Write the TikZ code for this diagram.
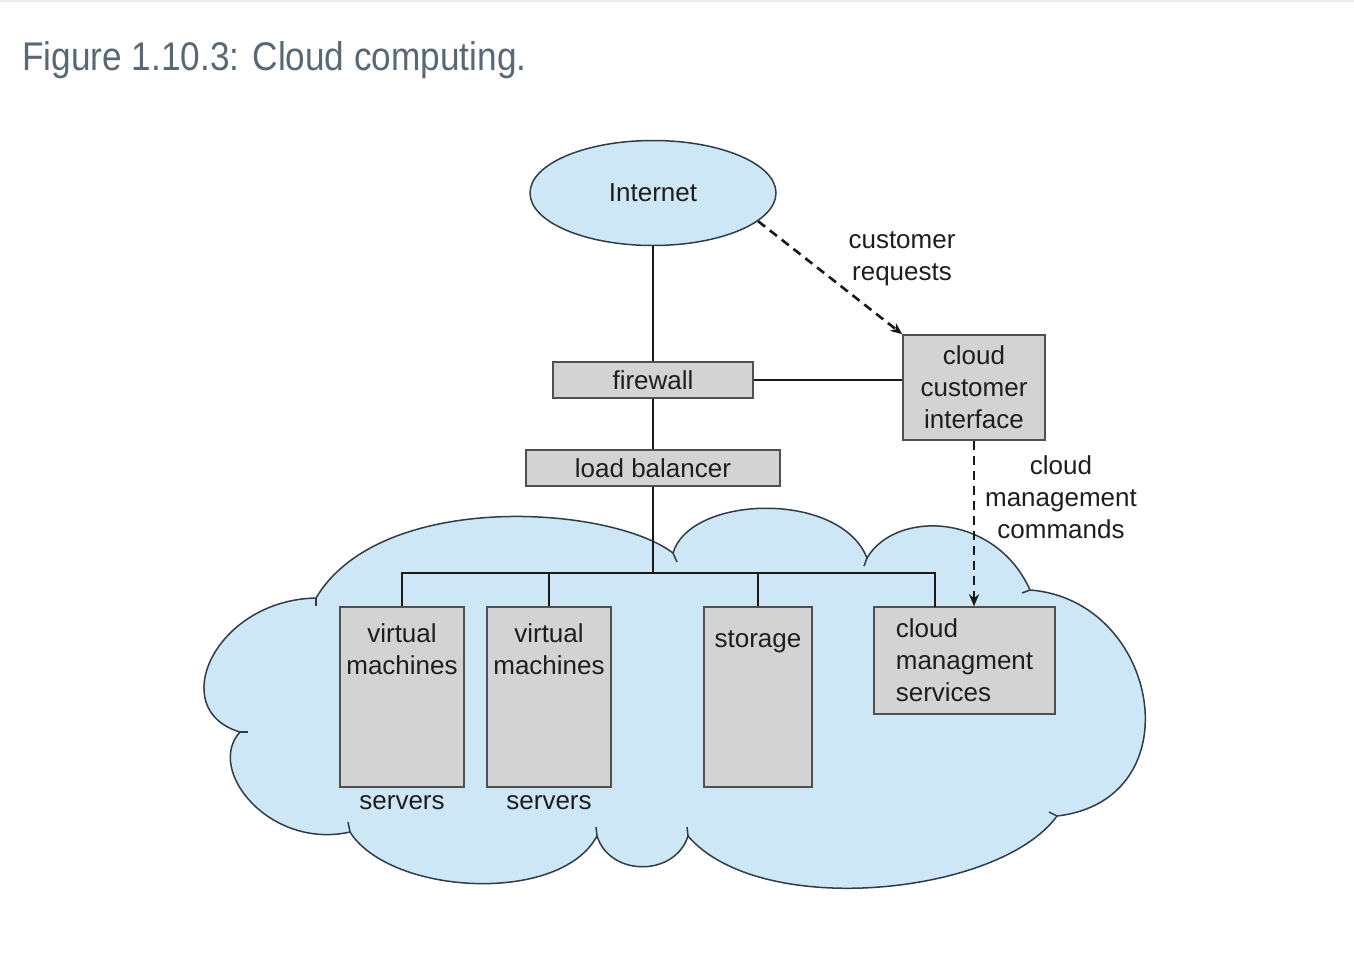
\documentclass[tikz,border=0pt]{standalone}
\usepackage{fontspec}
\usepackage{graphicx}
\setmainfont{Liberation Sans}
\usetikzlibrary{shapes.geometric,arrows.meta,calc}
\definecolor{cloudblue}{RGB}{205,231,246}
\definecolor{boxgray}{RGB}{211,211,211}
\definecolor{boxedge}{RGB}{80,80,80}
\definecolor{cloudedge}{RGB}{50,60,70}
\definecolor{titlecol}{RGB}{88,104,116}
\definecolor{inkcol}{RGB}{30,30,30}
\begin{document}
\begin{tikzpicture}[x=0.5pt,y=-0.5pt,
  font=\fontsize{13}{16}\selectfont, text=inkcol,
  box/.style={draw=boxedge, fill=boxgray, line width=0.75pt, inner sep=0pt},
  wire/.style={line width=1.05pt, draw=black!90},
  dashwire/.style={line width=1.3pt, draw=black!90, dash pattern=on 4.5pt off 3pt, -{Stealth[length=6pt,width=5pt]}},
  lbl/.style={align=center, inner sep=0pt},
  tick/.style={draw=cloudedge, line width=0.75pt}]
\useasboundingbox (0,0) rectangle (1354,958);
\fill[white] (0,0) rectangle (1354,958);
\draw[gray!15, line width=1pt] (0,1) -- (1354,1);
% title
\node[anchor=base west, text=titlecol, font=\fontsize{20}{24}\selectfont, inner sep=0pt] (title) at (22,70) {\scalebox{0.88}[1]{Figure 1.10.3: Cloud computing.}};
% cloud
\draw[fill=cloudblue, draw=cloudedge, line width=0.75pt]
  (316,598) .. controls (380,490) and (610,505) .. (673,553)
  .. controls (690,495) and (840,490) .. (867,558)
  .. controls (895,510) and (995,512) .. (1030,590)
  .. controls (1160,600) and (1195,800) .. (1057,816)
  .. controls (1000,895) and (760,920) .. (688,836)
  .. controls (675,877) and (610,877) .. (597,836)
  .. controls (560,905) and (390,895) .. (350,832)
  .. controls (270,850) and (205,770) .. (240,732)
  .. controls (165,710) and (215,600) .. (316,598) -- cycle;
\draw[tick] (316,598) -- (316,606);
\draw[tick] (673,553) -- (677,562);
\draw[tick] (867,558) -- (864,566);
\draw[tick] (1030,590) -- (1022,593);
\draw[tick] (1057,816) -- (1049,812);
\draw[tick] (688,836) -- (687,827);
\draw[tick] (597,836) -- (596,827);
\draw[tick] (350,832) -- (348,822);
\draw[tick] (240,732) -- (248,732);
% nodes
\node[ellipse, draw=cloudedge, fill=cloudblue, line width=0.75pt, minimum width=123pt, minimum height=52.5pt, inner sep=0pt] (inet) at (653,193) {Internet};
\node[box, minimum width=100pt, minimum height=18pt] (fw) at (653,380) {firewall};
\node[box, minimum width=127pt, minimum height=18pt] (lb) at (653,468) {load balancer};
\node[box, minimum width=71pt, minimum height=52.5pt, align=center] (cci) at (974,387.5) {cloud\\customer\\interface};
\node[box, minimum width=62pt, minimum height=90pt] (vm1) at (402,697) {};
\node[box, minimum width=62pt, minimum height=90pt] (vm2) at (549,697) {};
\node[box, minimum width=54pt, minimum height=90pt] (st) at (758,697) {};
\node[box, minimum width=90.5pt, minimum height=53.5pt, align=left] (cms) at (964.5,660.5) {cloud\\managment\\services};
\node[lbl] (vm1t) at (402,649) {virtual\\machines};
\node[lbl] (vm2t) at (549,649) {virtual\\machines};
\node[lbl] (stt) at (758,642) {storage};
\node[lbl] (s1) at (402,803) {servers};
\node[lbl] (s2) at (549,803) {servers};
\node[lbl] (cr) at (902,259) {customer\\requests};
\node[lbl] (cmc) at (1061,497) {cloud\\management\\commands};
% connectors
\coordinate (bus) at (653,573);
\coordinate (cmsin) at (935,607);
\draw[wire] (inet.south) -- (fw.north);
\draw[wire] (fw.south) -- (lb.north);
\draw[wire] (lb.south) -- (bus);
\draw[wire] (vm1.north) |- (bus) -| (cmsin);
\draw[wire] (vm2.north) -- (vm2.north |- bus);
\draw[wire] (st.north) -- (st.north |- bus);
\draw[wire] (fw.east) -- (fw.east -| cci.west);
\draw[dashwire] (inet.-15) -- (cci.north west);
\draw[dashwire] (cci.south) -- (cci.south |- cms.north);
\end{tikzpicture}
\end{document}
